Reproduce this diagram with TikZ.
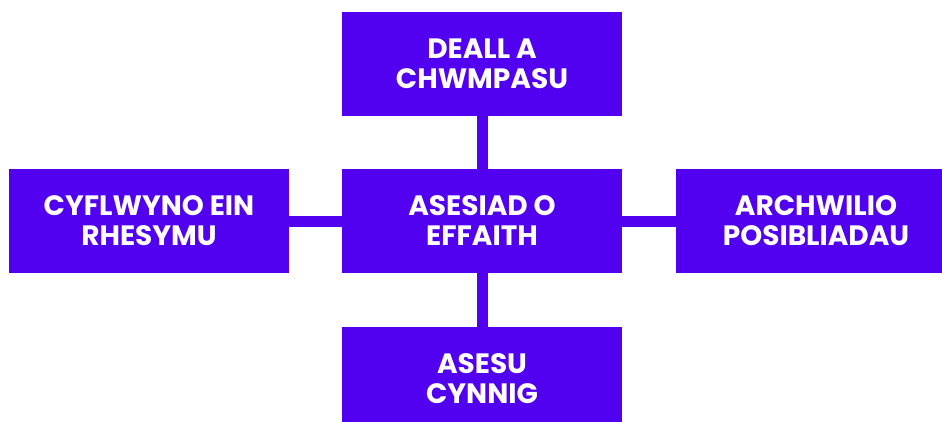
\documentclass[tikz,border=0pt]{standalone}
\usepackage{fontspec}
\setmainfont{Poppins}[UprightFont=* Bold]
\definecolor{brand}{RGB}{82,0,240}
\begin{document}
\begin{tikzpicture}[x=1pt,y=-1pt,
  boxstyle/.style={fill=brand,draw=none,minimum width=280pt,minimum height=104pt,inner sep=0pt,
    text=white,align=center,font=\fontsize{28}{30}\selectfont},
  linkstyle/.style={draw=brand,line width=11pt}]
\useasboundingbox (0,0) rectangle (942,421);
\node[boxstyle] (top) at (482,64) {DEALL A\\CHWMPASU};
\node[boxstyle] (mid) at (482,221) {ASESIAD O\\EFFAITH};
\node[boxstyle] (left) at (149,221) {CYFLWYNO EIN\\RHESYMU};
\node[boxstyle] (right) at (816,221) {ARCHWILIO\\POSIBLIADAU};
\node[boxstyle] (bot) at (482,379) {ASESU\\CYNNIG};
\draw[linkstyle] (top) -- (mid);
\draw[linkstyle] (mid) -- (bot);
\draw[linkstyle] (left) -- (mid);
\draw[linkstyle] (mid) -- (right);
\end{tikzpicture}
\end{document}
